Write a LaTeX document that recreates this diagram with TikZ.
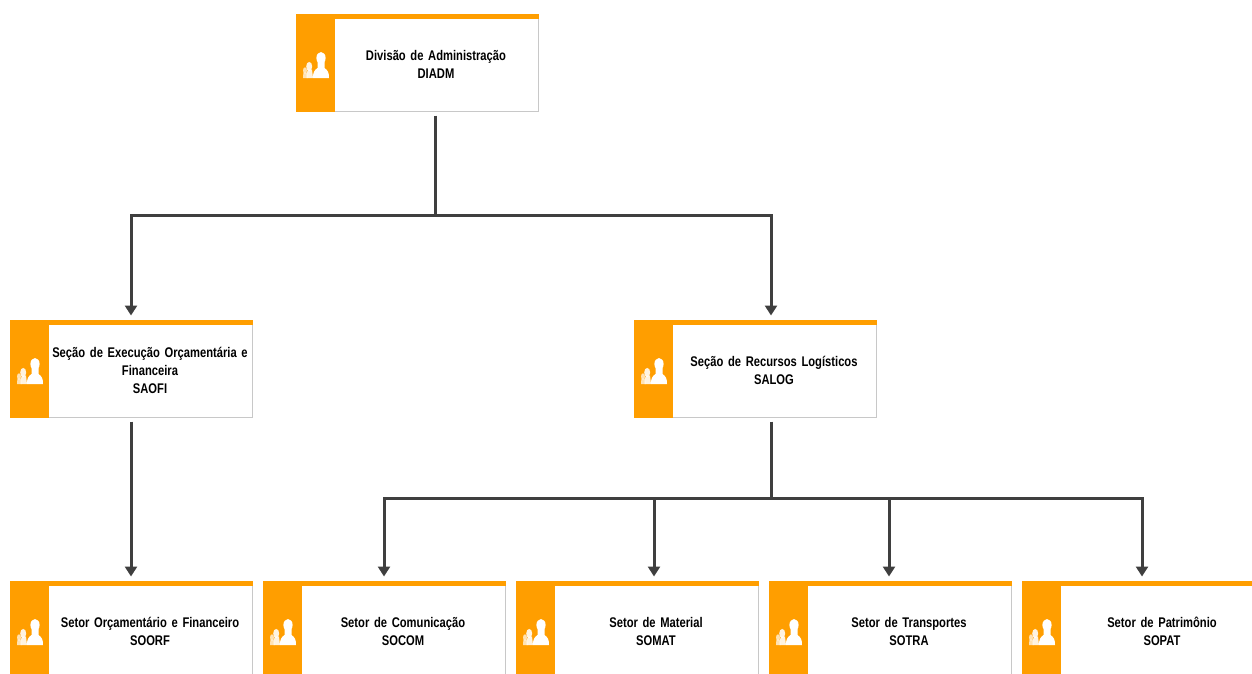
\documentclass[tikz,border=0pt]{standalone}
\usepackage{fontspec}
\setmainfont{Liberation Sans}[FakeStretch=0.80,WordSpace=0.85,BoldFont={Liberation Sans Bold}]
\usetikzlibrary{arrows.meta}
\definecolor{orgorange}{HTML}{FF9E00}
\definecolor{orgline}{HTML}{3F3F3F}
\definecolor{orgedge}{HTML}{C8C8C8}
\tikzset{
  x=1pt,y=-1pt,
  orgbody/.style={draw=orgedge,line width=1pt,fill=white,minimum width=242.5pt,minimum height=97pt,inner sep=0pt,outer sep=0pt,anchor=north west},
  orgtext/.style={font=\fontsize{14}{18}\selectfont\bfseries,text=black,align=center,text width=204pt,inner sep=0pt},
  link/.style={draw=orgline,line width=3pt},
  linkarrow/.style={link,-{Triangle[length=10pt,width=12pt]},shorten >=5pt},
  linkstart/.style={shorten <=4pt}
}
\newcommand{\orgunit}[4]{%
  \node[orgbody] (#1) at (#2,#3) {};
  \fill[orgorange] (#2-.5,#3-.5) rectangle ++(39,97.5);
  \fill[orgorange] (#2-.5,#3-.5) rectangle ++(243,5);
  \begin{scope}[shift={(#2+20,#3+50)}]
    \fill[white,opacity=.7] (-11,6) ellipse [x radius=2,y radius=3.2];
    \fill[white,opacity=.7] (-13,13.5) -- (-12.6,8) -- (-9,8) -- (-8.5,13.5) -- cycle;
    \fill[white,opacity=.88] (-6.8,2) ellipse [x radius=3,y radius=4.6];
    \fill[white,opacity=.88] (-9.5,13.5) .. controls (-9.5,9) and (-9,7) .. (-8,5) -- (-4,5) -- (-3,13.5) -- cycle;
    \fill[white] (5,-6.5) ellipse [x radius=4.6,y radius=6];
    \fill[white] (-3,13.5) .. controls (-3,8) and (-2,6) .. (1.5,3.5) -- (1.5,-3) -- (8.5,-3) -- (8.5,3.5) .. controls (12,6) and (13,8) .. (13,13.5) -- cycle;
  \end{scope}
  \node[orgtext] (#1text) at (#2+140,#3+49.5) {#4};
}
\begin{document}
\begin{tikzpicture}
\useasboundingbox (0,0) rectangle (1252,673);
\clip (0,0) rectangle (1252,673);
\fill[white] (0,0) rectangle (1252,673);
\orgunit{diadm}{296}{14.5}{Divisão de Administração\\DIADM}
\orgunit{saofi}{10}{320.5}{Seção de Execução Orçamentária e\\Financeira\\SAOFI}
\orgunit{salog}{634}{320.5}{Seção de Recursos Logísticos\\SALOG}
\orgunit{soorf}{10}{581.5}{Setor Orçamentário e Financeiro\\SOORF}
\orgunit{socom}{263}{581.5}{Setor de Comunicação\\SOCOM}
\orgunit{somat}{516}{581.5}{Setor de Material\\SOMAT}
\orgunit{sotra}{769}{581.5}{Setor de Transportes\\SOTRA}
\orgunit{sopat}{1022}{581.5}{Setor de Patrimônio\\SOPAT}
\coordinate (busa) at (435,215);
\coordinate (busb) at (771,498);
\coordinate (saofix) at (131,215);
\coordinate (salogx) at (771,215);
\coordinate (socomx) at (384,498);
\coordinate (somatx) at (654,498);
\coordinate (sotrax) at (889,498);
\coordinate (sopatx) at (1142,498);
\draw[link,linkstart] (diadm.south -| busa) -- (busa);
\draw[linkarrow] (busa) -- (saofix) -- (saofi.north -| saofix);
\draw[linkarrow] (busa) -- (salogx) -- (salog.north -| salogx);
\draw[linkarrow,linkstart] (saofi.south -| saofix) -- (soorf.north -| saofix);
\draw[link,linkstart] (salog.south -| busb) -- (busb);
\draw[linkarrow] (busb) -- (socomx) -- (socom.north -| socomx);
\draw[linkarrow] (somatx) -- (somat.north -| somatx);
\draw[linkarrow] (sotrax) -- (sotra.north -| sotrax);
\draw[linkarrow] (busb) -- (sopatx) -- (sopat.north -| sopatx);
\end{tikzpicture}
\end{document}
